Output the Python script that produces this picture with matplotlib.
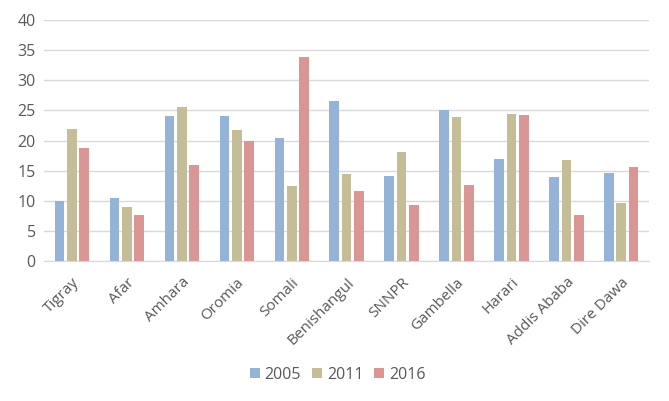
import matplotlib.pyplot as plt
import numpy as np

# Values
regions = ["Tigray", "Afar", "Amhara", "Oromia", "Somali", "Benishangul",
           "SNNPR", "Gambella", "Harari", "Addis Ababa", "Dire Dawa"]
years = ["2005", "2011", "2016"]
vals_2005 = [10.0, 10.5, 24.0, 24.0, 20.4, 26.5, 14.1, 25.0, 17.0, 14.0, 14.6]
vals_2011 = [22.0, 9.0, 25.5, 21.8, 12.5, 14.5, 18.1, 23.9, 24.4, 16.8, 9.7]
vals_2016 = [18.8, 7.7, 16.0, 19.9, 33.8, 11.6, 9.3, 12.6, 24.2, 7.7, 15.6]
y_ticks = [0, 5, 10, 15, 20, 25, 30, 35, 40]

COLORS = ["#95B3D7", "#C4BD97", "#D99694"]
TEXT = "#595959"

plt.rcParams["font.family"] = ["Open Sans", "DejaVu Sans"]

fig = plt.figure(figsize=(6.69, 4.01), dpi=100)
ax = fig.add_axes([0.066, 0.349, 0.904, 0.601])

x = np.arange(len(regions))
width = 0.18
step = 0.22
series = [vals_2005, vals_2011, vals_2016]
for i, (vals, yr) in enumerate(zip(series, years)):
    ax.bar(x + (i - 1) * step, vals, width, color=COLORS[i], label=yr, zorder=3)

ax.set_xlim(-0.5, len(regions) - 0.5)
ax.set_ylim(0, 40)
ax.set_yticks(y_ticks)
ax.set_yticklabels([str(t) for t in y_ticks], fontsize=11.5, color=TEXT)
ax.set_xticks(x)
ax.set_xticklabels(regions, rotation=45, ha="right", rotation_mode="anchor",
                   fontsize=11, color=TEXT)
ax.tick_params(axis="y", length=0, pad=6)
ax.tick_params(axis="x", length=0, pad=10)
ax.grid(axis="y", color="#D9D9D9", linewidth=1, zorder=0)
for s in ["top", "right", "left"]:
    ax.spines[s].set_visible(False)
ax.spines["bottom"].set_color("#D9D9D9")

fig.legend(loc="center", bbox_to_anchor=(0.505, 0.065), ncol=3, frameon=False,
           fontsize=11.5, handlelength=0.6, handleheight=0.6, handletextpad=0.3,
           columnspacing=0.7, labelcolor=TEXT)

fig.savefig("out.png", dpi=100)
